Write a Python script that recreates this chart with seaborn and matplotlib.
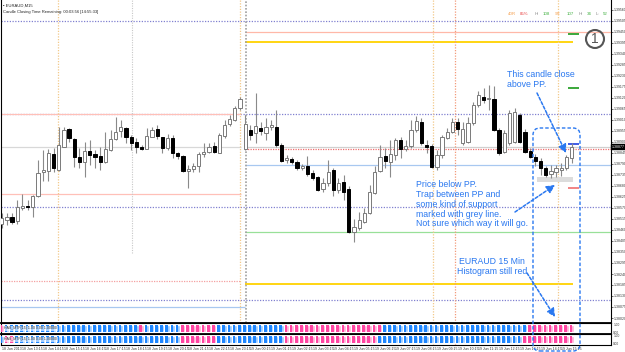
import numpy as np
import pandas as pd
import seaborn as sns
import matplotlib.pyplot as plt
from matplotlib.patches import FancyBboxPatch, Rectangle, Circle
from matplotlib.transforms import IdentityTransform

sns.set_theme(style="white")
plt.rcParams['font.family'] = ['Liberation Sans', 'DejaVu Sans']

# EURAUD M15 candles
opens = [1.38490, 1.38510, 1.38527, 1.38507, 1.38570, 1.38582, 1.38574, 1.38632, 1.38750, 1.38755,
         1.38840, 1.38760, 1.38877, 1.38964, 1.38914, 1.38824, 1.38802, 1.38855, 1.38840, 1.38830,
         1.38799, 1.38860, 1.38915, 1.38957, 1.38969, 1.38927, 1.38899, 1.38874, 1.38865, 1.38927,
         1.38964, 1.38924, 1.38870, 1.38922, 1.38844, 1.38830, 1.38755, 1.38764, 1.38780, 1.38839,
         1.38852, 1.38880, 1.38847, 1.38930, 1.38990, 1.39010, 1.39069, 1.38864, 1.38960, 1.38944,
         1.38969, 1.38944, 1.38977, 1.38977, 1.38885, 1.38810, 1.38815, 1.38799, 1.38769, 1.38780,
         1.38744, 1.38724, 1.38664, 1.38694, 1.38760, 1.38660, 1.38702, 1.38664, 1.38449, 1.38469,
         1.38502, 1.38547, 1.38647, 1.38757, 1.38832, 1.38802, 1.38835, 1.38910, 1.38867, 1.38880,
         1.38960, 1.39002, 1.38885, 1.38880, 1.38774, 1.38835, 1.38922, 1.38952, 1.39002, 1.38897,
         1.38902, 1.38994, 1.39085, 1.39127, 1.39114, 1.39114, 1.38960, 1.38852, 1.38894, 1.38902,
         1.39035, 1.38952, 1.38857, 1.38827, 1.38807, 1.38769, 1.38739, 1.38752, 1.38760, 1.38769,
         1.38822]
highs = [1.38545, 1.38545, 1.38545, 1.38610, 1.38640, 1.38610, 1.38635, 1.38810, 1.38860, 1.38865,
         1.38870, 1.38977, 1.38977, 1.38970, 1.38919, 1.38870, 1.38902, 1.38910, 1.38860, 1.38877,
         1.38952, 1.38960, 1.39027, 1.39010, 1.38977, 1.38935, 1.38919, 1.38885, 1.38969, 1.38977,
         1.38985, 1.38927, 1.38940, 1.38935, 1.38852, 1.38835, 1.38785, 1.38794, 1.38852, 1.38894,
         1.38895, 1.38900, 1.38945, 1.39010, 1.39035, 1.39080, 1.39127, 1.39035, 1.38985, 1.39144,
         1.39000, 1.39020, 1.39010, 1.39060, 1.38895, 1.38835, 1.38825, 1.38810, 1.38790, 1.38830,
         1.38760, 1.38730, 1.38720, 1.38810, 1.38770, 1.38720, 1.38735, 1.38680, 1.38515, 1.38550,
         1.38570, 1.38685, 1.38780, 1.38885, 1.38870, 1.38910, 1.38920, 1.38925, 1.38910, 1.39010,
         1.39030, 1.39020, 1.38910, 1.38890, 1.38860, 1.38935, 1.38970, 1.39020, 1.39020, 1.39000,
         1.39025, 1.39100, 1.39155, 1.39170, 1.39185, 1.39180, 1.38970, 1.38960, 1.39060, 1.39070,
         1.39045, 1.38965, 1.38870, 1.38840, 1.38820, 1.38780, 1.38785, 1.38785, 1.38795, 1.38835,
         1.38895]
lows = [1.38470, 1.38485, 1.38490, 1.38490, 1.38560, 1.38560, 1.38525, 1.38627, 1.38707, 1.38707,
        1.38752, 1.38757, 1.38874, 1.38902, 1.38777, 1.38769, 1.38724, 1.38785, 1.38769, 1.38760,
        1.38797, 1.38857, 1.38910, 1.38927, 1.38894, 1.38860, 1.38844, 1.38860, 1.38864, 1.38924,
        1.38914, 1.38847, 1.38860, 1.38820, 1.38814, 1.38752, 1.38669, 1.38752, 1.38752, 1.38827,
        1.38845, 1.38845, 1.38845, 1.38920, 1.38980, 1.39005, 1.39060, 1.38860, 1.38910, 1.38894,
        1.38935, 1.38910, 1.38960, 1.38875, 1.38800, 1.38795, 1.38790, 1.38760, 1.38760, 1.38730,
        1.38710, 1.38655, 1.38650, 1.38680, 1.38630, 1.38645, 1.38610, 1.38445, 1.38402, 1.38460,
        1.38495, 1.38540, 1.38640, 1.38750, 1.38770, 1.38725, 1.38810, 1.38820, 1.38855, 1.38870,
        1.38950, 1.38885, 1.38845, 1.38770, 1.38760, 1.38820, 1.38915, 1.38945, 1.38935, 1.38885,
        1.38895, 1.38985, 1.39075, 1.39095, 1.39060, 1.38955, 1.38835, 1.38845, 1.38885, 1.38895,
        1.38895, 1.38845, 1.38820, 1.38780, 1.38735, 1.38725, 1.38720, 1.38725, 1.38730, 1.38760,
        1.38795]
closes = [1.38520, 1.38527, 1.38502, 1.38575, 1.38580, 1.38574, 1.38632, 1.38745, 1.38760, 1.38845,
          1.38770, 1.38885, 1.38960, 1.38919, 1.38824, 1.38799, 1.38855, 1.38835, 1.38824, 1.38799,
          1.38864, 1.38915, 1.38949, 1.38974, 1.38927, 1.38897, 1.38874, 1.38864, 1.38930, 1.38960,
          1.38930, 1.38869, 1.38920, 1.38844, 1.38830, 1.38757, 1.38764, 1.38780, 1.38840, 1.38852,
          1.38877, 1.38852, 1.38935, 1.38985, 1.39014, 1.39072, 1.39114, 1.38990, 1.38935, 1.38982,
          1.38955, 1.38977, 1.38985, 1.38885, 1.38807, 1.38819, 1.38799, 1.38769, 1.38780, 1.38740,
          1.38719, 1.38660, 1.38694, 1.38752, 1.38660, 1.38694, 1.38652, 1.38449, 1.38477, 1.38510,
          1.38544, 1.38649, 1.38752, 1.38827, 1.38807, 1.38839, 1.38910, 1.38864, 1.38882, 1.38960,
          1.39005, 1.38894, 1.38877, 1.38777, 1.38835, 1.38924, 1.38952, 1.39002, 1.38965, 1.38964,
          1.38997, 1.39085, 1.39135, 1.39110, 1.39119, 1.38960, 1.38847, 1.38947, 1.39044, 1.39052,
          1.38902, 1.38852, 1.38827, 1.38807, 1.38769, 1.38735, 1.38755, 1.38769, 1.38769, 1.38824,
          1.38877]

# histogram sub-windows: (state, number of bars)
hist_top_runs = [("down", 1), ("up", 26), ("down", 1), ("up", 7), ("down", 7), ("up", 13),
                 ("down", 19), ("up", 28), ("down", 9)]
hist_bottom_runs = [("up", 1), ("down", 2), ("up", 32), ("down", 7), ("up", 13),
                    ("down", 18), ("up", 28), ("down", 10)]

# dotted round-number levels, full width
round_levels = [1.39505, 1.39040, 1.38575, 1.38110]
# previous day pivot set (left part)
prev_levels = {"r": 1.39038, "pp": 1.38875, "s1": 1.38639, "s2": 1.38204, "s3": 1.38074}
# current day pivot set (right part)
cur_levels = {"r3": 1.39449, "r2": 1.39399, "pp": 1.38874, "pp2": 1.38864,
              "s1": 1.38784, "s2": 1.38449, "s3": 1.38189}
marks = {"g1": 1.39440, "g2": 1.39169, "b": 1.38889, "r": 1.38669}
support_zone = (103.3, 110.2, 1.38699, 1.38724)
day_start = 47
session_lines = [(10.9, "#f3c98a"), (46.0, "#f3c98a"), (83.3, "#f3c98a"),
                 (87.4, "#f29a7a"), (107.4, "#f3c98a")]
grey_lines = [25.1, 47.1]

n = len(opens)
idx = np.arange(n)
o = np.array(opens); c = np.array(closes)
times = pd.date_range("2013-06-18 12:15", periods=n, freq="15min")

W, H = 625, 352
fig = plt.figure(figsize=(W / 100, H / 100), dpi=100)
fig.patch.set_facecolor("white")


def box(x0, y0, x1, y1):
    return [x0 / W, 1 - y1 / H, (x1 - x0) / W, (y1 - y0) / H]


ax = fig.add_axes(box(1, 0, 611, 323))
ax1 = fig.add_axes(box(1, 323, 611, 334))
ax2 = fig.add_axes(box(1, 334, 611, 345))
xlim = (-0.14, 117.6)

# levels
for lv in round_levels:
    ax.axhline(lv, color="#8080d0", lw=0.9, ls=(0, (1, 1.2)), zorder=1)
ax.hlines(prev_levels["r"], xlim[0], 46.2, color="#ffc0b8", lw=0.9, zorder=1)
ax.hlines(prev_levels["pp"], xlim[0], 46.2, color="#d8d8d8", lw=0.9, zorder=1)
ax.hlines(prev_levels["s1"], xlim[0], 46.2, color="#ffc0b8", lw=0.9, zorder=1)
ax.hlines(prev_levels["s2"], xlim[0], 46.2, color="#f4a0a0", lw=0.9, ls=(0, (1, 1)), zorder=1)
ax.hlines(prev_levels["s3"], xlim[0], day_start, color="#a8c8f0", lw=0.9, zorder=1)
ax.hlines(cur_levels["r3"], day_start, xlim[1], color="#ffb8a8", lw=0.9, zorder=1)
ax.hlines(cur_levels["r2"], day_start, 110.3, color="#ffd200", lw=1.3, zorder=1)
ax.hlines(cur_levels["pp"], day_start, xlim[1], color="#d0d0d0", lw=0.9, zorder=1)
ax.hlines(cur_levels["pp2"], day_start, xlim[1], color="#f07070", lw=0.9, ls=(0, (1, 1)), zorder=1)
ax.hlines(cur_levels["s1"], day_start, xlim[1], color="#a8c8f0", lw=0.9, zorder=1)
ax.hlines(cur_levels["s2"], day_start, xlim[1], color="#98e098", lw=0.9, zorder=1)
ax.hlines(cur_levels["s3"], day_start, 110.3, color="#ffd200", lw=1.3, zorder=1)
ax.hlines([marks["g1"], marks["g2"]], 109.3, 111.4, color="#1a9a1a", lw=1.2, zorder=2)
ax.hlines(marks["b"], 109.3, 111.4, color="#2040e0", lw=1.2, zorder=2)
ax.hlines(marks["r"], 109.3, 111.4, color="#f07070", lw=1.2, zorder=2)

for x, col in session_lines:
    for a in (ax, ax1, ax2):
        a.axvline(x, color=col, lw=0.9, ls=(0, (1, 1.2)), zorder=1)
ax.axvline(grey_lines[0], ymin=(323 - 253) / 323, color="#c8c8c8", lw=0.8, ls=(0, (1, 1.2)), zorder=1)
ax.axvline(grey_lines[1], color="#a0a0a0", lw=1.2, ls=(0, (1, 1)), zorder=1)

ax.add_patch(Rectangle((support_zone[0], support_zone[2]), support_zone[1] - support_zone[0],
                       support_zone[3] - support_zone[2], color="#dcdcdc", lw=0, zorder=1.5))

# candles
up = c >= o
ax.vlines(idx, lows, highs, color="#8a8a8a", lw=0.8, zorder=2)
body_low = np.minimum(o, c)
body_h = np.maximum(np.abs(c - o), 0.000015)
ax.bar(idx, body_h, bottom=body_low, width=0.62,
       color=np.where(up, "white", "black"), edgecolor=np.where(up, "#7a7a7a", "black"),
       linewidth=0.7, zorder=3)

ax.set_xlim(*xlim)
ax.set_ylim(1.37995, 1.39610)
ax.set_xticks([])
ticks = 1.39560 - 0.00055 * np.arange(29)
ax.yaxis.tick_right()
ax.set_yticks(ticks)
ax.set_yticklabels([f"{t:.5f}" for t in ticks])
ax.tick_params(axis="y", labelsize=2.5, length=1.2, width=0.5, pad=0.6, colors="#333333", right=True)
ax.spines["top"].set_visible(False)
for s in ("left", "right", "bottom"):
    ax.spines[s].set_color("black")
    ax.spines[s].set_linewidth(0.8)
ax.spines["bottom"].set_linewidth(1.3)
ax.text(xlim[1] + 0.1, c[-1], f"{c[-1]:.5f}", fontsize=2.5, color="white", va="center", ha="left",
        bbox=dict(boxstyle="square,pad=0.15", fc="black", ec="black"), clip_on=False)

# histogram panels: light stripe behind, dark bar in front
light = {"up": "#9ccbff", "down": "#ffb0d6"}
dark = {"up": "#1e86ff", "down": "#ff45a2"}
for a, runs in ((ax1, hist_top_runs), (ax2, hist_bottom_runs)):
    states = [s for s, k in runs for _ in range(k)]
    df = pd.DataFrame({"bar": idx, "value": 1.0, "state": states})
    sns.barplot(data=df, x="bar", y="value", hue="state", palette=light, native_scale=True,
                width=0.82, dodge=False, legend=False, saturation=1, errorbar=None, ax=a)
    a.bar(idx - 0.15, 1.0, width=0.52, color=[dark[s] for s in states], lw=0, zorder=3)
    a.set_xlim(*xlim)
    a.set_ylim(-0.2, 1.25)
    a.set_xlabel("")
    a.set_ylabel("")
    a.yaxis.tick_right()
    a.set_yticks([1.0, 0.0])
    a.set_yticklabels(["1.00", "0.00"])
    a.tick_params(axis="y", labelsize=2.3, length=1, pad=0.6, colors="#333333")
    for s in a.spines.values():
        s.set_color("black")
        s.set_linewidth(0.8)
    a.set_facecolor("white")
    a.text(0.5, 0.55, "HAS_MTF(15) 1.00 0.00 1.00000", fontsize=2.6, color="#333333",
           va="center", ha="left", zorder=5,
           bbox=dict(boxstyle="square,pad=0.1", fc="white", ec="none", alpha=0.6))
ax1.spines["bottom"].set_linewidth(1.3)
ax1.set_xticks([])
ax2.set_xticks(idx[::4])
ax2.set_xticklabels(["18 Jun 2013" if i == 0 else times[i].strftime("%d %b %H:%M").lstrip("0")
                     for i in idx[::4]], ha="left")
ax2.tick_params(axis="x", labelsize=2.5, length=0.8, pad=0.3, colors="#333333")

# header texts
fig.text(3 / W, 1 - 6 / H, "\u25aa EURAUD,M15", fontsize=3, color="#222222", va="center")
fig.text(3 / W, 1 - 12 / H, "Candle Closing Time Remaining: 00:03:56 [14:55:33]", fontsize=3,
         color="#222222", va="center")
stats = [("40R", "#f5a050", 508), ("85%", "#e84040", 520), ("H:", "#888888", 535),
         ("108", "#40b040", 543), ("9R", "#f5a050", 555), ("107", "#40b040", 567),
         ("H:", "#888888", 579), ("34", "#40b040", 587), ("L:", "#888888", 596), ("52", "#40b040", 603)]
for txt, col, x in stats:
    fig.text(x / W, 1 - 14 / H, txt, fontsize=3.2, color=col, va="center")

# numbered marker
fig.add_artist(Circle((595, H - 39), 9, transform=IdentityTransform(), fill=False,
                      ec="#555555", lw=1.5))
fig.text(595 / W, 1 - 39 / H, "1", fontsize=10, color="#555555", ha="center", va="center")

# annotations
blue = "#2a78f0"
fig.text(507 / W, 1 - 70 / H, "This candle close\nabove PP.", fontsize=6.3, color=blue,
         va="top", ha="left", linespacing=1.15)
fig.text(416 / W, 1 - 180 / H,
         "Price below PP.\nTrap between PP and\nsome kind of support\nmarked with grey line.\n"
         "Not sure which way it will go.", fontsize=6.3, color=blue, va="top", ha="left",
         linespacing=1.12)
fig.text(492 / W, 1 - 257 / H, "EURAUD 15 Min\nHistogram still red", fontsize=6.3, color=blue,
         va="top", ha="center", linespacing=1.15)

arrow = dict(arrowstyle="-|>,head_length=0.4,head_width=0.2", color=blue, lw=1.1,
             ls=(0, (2, 1.2)), shrinkA=0, shrinkB=0)
for (x0, y0), (x1, y1) in [((537, 93), (566, 153)), ((515, 212), (555, 185)),
                           ((527, 273), (555, 317))]:
    ax.annotate("", xy=(x1, H - y1), xycoords="figure pixels", xytext=(x0, H - y0),
                textcoords="figure pixels", arrowprops=arrow, annotation_clip=False)

fig.add_artist(FancyBboxPatch((533, H - 351), 47, 351 - 128, boxstyle="round,pad=0,rounding_size=7",
                              transform=IdentityTransform(), fill=False, ec=blue, lw=1.0,
                              ls=(0, (2.5, 1.5))))

fig.savefig("out.png", dpi=100, facecolor="white")
